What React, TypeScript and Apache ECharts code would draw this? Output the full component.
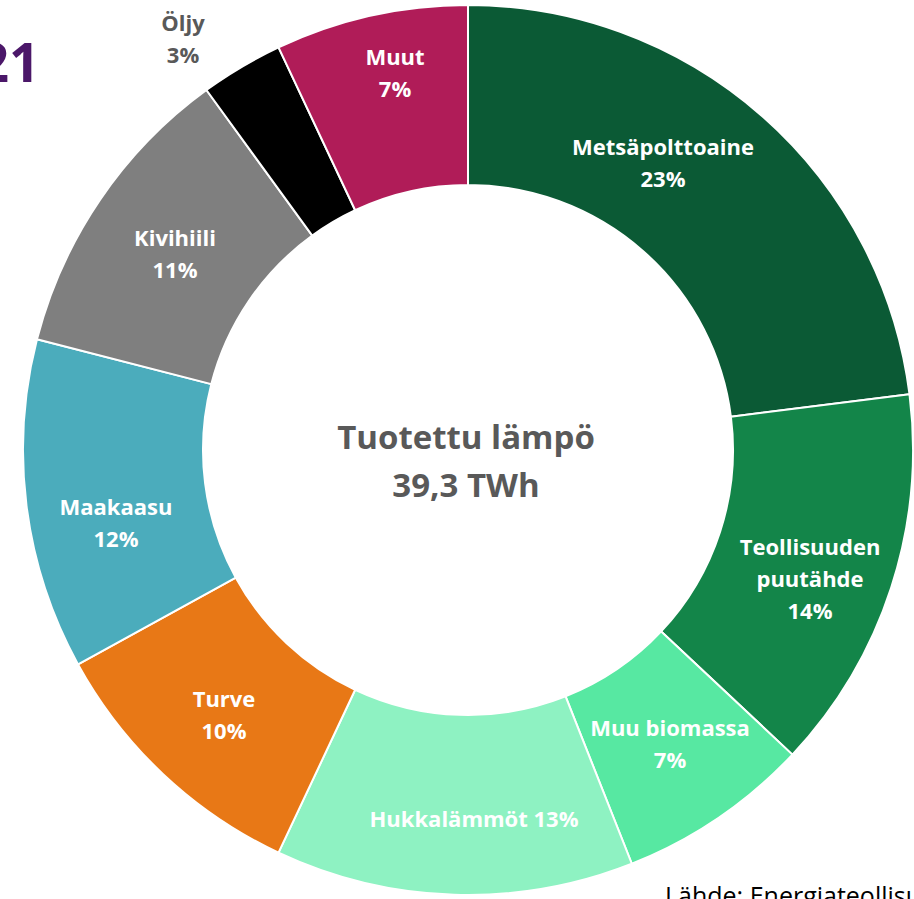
import React, { useEffect, useRef } from "react";
import * as echarts from "echarts";

const categories = [
  "Metsäpolttoaine",
  "Teollisuuden\npuutähde",
  "Muu biomassa",
  "Hukkalämmöt",
  "Turve",
  "Maakaasu",
  "Kivihiili",
  "Öljy",
  "Muut",
];
const shares = [23, 14, 7, 13, 10, 12, 11, 3, 7];
const separators = ["\n", "\n", "\n", " ", "\n", "\n", "\n", "\n", "\n"];
const colors = [
  "#0B5A35",
  "#138549",
  "#57E8A2",
  "#8EF2C2",
  "#E87816",
  "#4BACBC",
  "#7F7F7F",
  "#000000",
  "#B01C58",
];
const labelColors = ["#fff", "#fff", "#fff", "#fff", "#fff", "#fff", "#fff", "#595959", "#fff"];
// label centres (px) as placed in the reference
const labelPos: [number, number][] = [
  [663, 162],
  [810, 578],
  [670, 743],
  [474, 818],
  [224, 714],
  [116, 522],
  [175, 253],
  [183, 38],
  [395, 72],
];
const centerTitle = "Tuotettu lämpö";
const centerValue = "39,3 TWh";

export default function App() {
  const ref = useRef<HTMLDivElement>(null);
  useEffect(() => {
    if (!ref.current) return;
    const chart = echarts.init(ref.current, undefined, { renderer: "svg" });
    const font = "'Open Sans', Lato, sans-serif";
    chart.setOption({
      animation: false,
      backgroundColor: "#ffffff",
      graphic: [
        {
          type: "text",
          style: {
            text: centerTitle + "\n" + centerValue,
            x: 466,
            y: 460,
            align: "center",
            verticalAlign: "middle",
            fill: "#595959",
            font: `bold 33px ${font}`,
            lineHeight: 48,
          },
        },
        {
          type: "text",
          style: {
            text: "2021",
            x: 40,
            y: 61,
            align: "right",
            verticalAlign: "middle",
            fill: "#4B1769",
            font: `bold 54px ${font}`,
          },
        },
        {
          type: "text",
          style: {
            text: "Lähde: Energiateollisuus",
            x: 665,
            y: 882,
            align: "left",
            verticalAlign: "top",
            fill: "#000000",
            font: `25px ${font}`,
          },
        },
      ],
      series: [
        {
          type: "pie",
          center: [468, 450],
          radius: [265, 445],
          startAngle: 90,
          clockwise: true,
          avoidLabelOverlap: false,
          itemStyle: { borderColor: "#ffffff", borderWidth: 2 },
          label: {
            show: true,
            position: "inside",
            fontFamily: font,
            fontWeight: "bold",
            fontSize: 22,
            lineHeight: 32,
            align: "center",
          },
          labelLine: { show: false },
          labelLayout: (p: any) => ({
            x: labelPos[p.dataIndex][0],
            y: labelPos[p.dataIndex][1],
            align: "center",
            verticalAlign: "middle",
          }),
          data: categories.map((c, i) => ({
            name: c,
            value: shares[i],
            itemStyle: { color: colors[i] },
            label: {
              color: labelColors[i],
              formatter: () => `${c}${separators[i]}${shares[i]}%`,
            },
          })),
        },
      ],
    });
    return () => chart.dispose();
  }, []);
  return (
    <div
      ref={ref}
      style={{ position: "fixed", left: 0, top: 0, width: 914, height: 899 }}
    />
  );
}
